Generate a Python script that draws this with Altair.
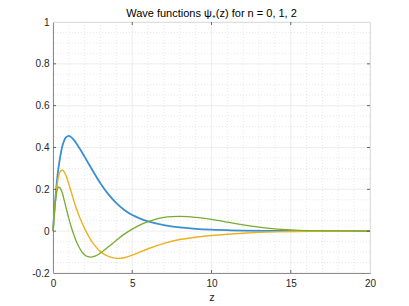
import altair as alt
import pandas as pd

# ---- data ----
z0 = [0, 0.1, 0.2, 0.3, 0.4, 0.5, 0.6, 0.7, 0.8, 0.95, 1.1, 1.3, 1.5, 1.75, 2, 2.5,
      3, 3.5, 4, 4.5, 5, 5.5, 6, 7, 8, 9, 10, 11, 12, 14, 16, 18, 20]
psi0 = [0, 0.11, 0.2, 0.275, 0.33, 0.375, 0.41, 0.432, 0.447, 0.455, 0.452, 0.438,
        0.417, 0.387, 0.355, 0.29, 0.228, 0.176, 0.134, 0.101, 0.077, 0.06, 0.047,
        0.029, 0.018, 0.011, 0.007, 0.0045, 0.003, 0.0013, 0.0005, 0.0002, 0.0]

z1 = [0, 0.1, 0.2, 0.3, 0.4, 0.5, 0.6, 0.7, 0.85, 1.0, 1.2, 1.4, 1.6, 1.8, 2.0, 2.2,
      2.5, 2.8, 3.0, 3.5, 4.0, 4.5, 5, 5.5, 6, 7, 8, 9, 10, 11, 12, 13, 14, 16, 18, 20]
psi1 = [0, 0.1, 0.18, 0.24, 0.275, 0.29, 0.292, 0.285, 0.26, 0.225, 0.175, 0.125,
        0.082, 0.045, 0.012, -0.018, -0.055, -0.083, -0.099, -0.121, -0.13, -0.127,
        -0.115, -0.099, -0.084, -0.058, -0.04, -0.029, -0.021, -0.015, -0.01,
        -0.006, -0.0035, -0.001, -0.0003, 0.0]

z2 = [0, 0.1, 0.2, 0.3, 0.4, 0.5, 0.6, 0.7, 0.8, 1.0, 1.2, 1.4, 1.6, 1.8, 2.0, 2.2,
      2.4, 2.6, 2.8, 3.0, 3.5, 4.0, 4.5, 5.0, 5.5, 6, 6.5, 7, 7.5, 8, 8.5, 9, 10, 11,
      12, 13, 14, 15, 16, 18, 20]
psi2 = [0, 0.1, 0.17, 0.205, 0.21, 0.2, 0.18, 0.15, 0.12, 0.06, 0.008, -0.035, -0.07,
        -0.097, -0.114, -0.122, -0.124, -0.121, -0.114, -0.104, -0.075, -0.043,
        -0.014, 0.01, 0.03, 0.046, 0.058, 0.066, 0.07, 0.071, 0.07, 0.066, 0.056,
        0.043, 0.03, 0.019, 0.011, 0.006, 0.003, 0.001, 0.0]

series_colors = ["#3b8fd0", "#edb120", "#77ac30"]
series_widths = [1.8, 1.4, 1.3]

x_major = [0, 5, 10, 15, 20]
x_minor = [1, 2, 3, 4, 6, 7, 8, 9, 11, 12, 13, 14, 16, 17, 18, 19]
y_major = [-0.2, 0, 0.2, 0.4, 0.6, 0.8, 1]
y_minor = [-0.15, -0.1, -0.05, 0.05, 0.1, 0.15, 0.25, 0.3, 0.35, 0.45, 0.5, 0.55,
           0.65, 0.7, 0.75, 0.85, 0.9, 0.95]

W, H = 317, 251
FONT = "Liberation Sans"

xs = alt.Scale(domain=[0, 20], nice=False, zero=False)
ys = alt.Scale(domain=[-0.2, 1], nice=False, zero=False)

x_axis = alt.Axis(values=x_major, grid=False, ticks=False, labelFontSize=10,
                  labelColor="#262626", labelPadding=5, labelFont=FONT,
                  labelFlush=False,
                  title="z", titleFont=FONT, titleFontSize=11, titleFontWeight="normal",
                  titleColor="#262626", titlePadding=3, domainColor="#666666",
                  domainWidth=1)
y_axis = alt.Axis(values=y_major, grid=False, ticks=False, labelFontSize=10,
                  labelColor="#262626", labelPadding=4, labelFont=FONT,
                  labelFlush=False,
                  labelExpr="replace(format(datum.value, '~g'), '\u2212', '-')",
                  title=None, domainColor="#666666", domainWidth=1)

gxmin = alt.Chart(pd.DataFrame({"v": x_minor})).mark_rule(
    color="#d9d9d9", strokeWidth=0.6, strokeDash=[1, 2]).encode(
    x=alt.X("v:Q", scale=xs, axis=x_axis))
gxmaj = alt.Chart(pd.DataFrame({"v": x_major})).mark_rule(
    color="#e3e3e3", strokeWidth=0.6).encode(x=alt.X("v:Q", scale=xs))
gymin = alt.Chart(pd.DataFrame({"v": y_minor})).mark_rule(
    color="#d9d9d9", strokeWidth=0.6, strokeDash=[1, 2]).encode(
    y=alt.Y("v:Q", scale=ys, axis=y_axis))
gymaj = alt.Chart(pd.DataFrame({"v": y_major})).mark_rule(
    color="#e3e3e3", strokeWidth=0.6).encode(y=alt.Y("v:Q", scale=ys))

curves = []
for zz, pp, col, sw in zip([z0, z1, z2], [psi0, psi1, psi2], series_colors, series_widths):
    df = pd.DataFrame({"z": zz, "psi": pp})
    curves.append(alt.Chart(df).mark_line(color=col, strokeWidth=sw,
                                           interpolate="natural").encode(
        x=alt.X("z:Q", scale=xs), y=alt.Y("psi:Q", scale=ys)))

tick_col = "#444444"
dfx = pd.DataFrame({"v": x_major[1:-1]})
dfy = pd.DataFrame({"v": y_major[1:-1]})
tk = [
    alt.Chart(dfx).mark_rule(color=tick_col, strokeWidth=0.8).encode(
        x=alt.X("v:Q", scale=xs), y=alt.value(H), y2=alt.value(H - 3)),
    alt.Chart(dfx).mark_rule(color=tick_col, strokeWidth=0.8).encode(
        x=alt.X("v:Q", scale=xs), y=alt.value(0), y2=alt.value(3)),
    alt.Chart(dfy).mark_rule(color=tick_col, strokeWidth=0.8).encode(
        y=alt.Y("v:Q", scale=ys), x=alt.value(0), x2=alt.value(3)),
    alt.Chart(dfy).mark_rule(color=tick_col, strokeWidth=0.8).encode(
        y=alt.Y("v:Q", scale=ys), x=alt.value(W), x2=alt.value(W - 3)),
]

chart = alt.layer(gxmin, gxmaj, gymin, gymaj, *curves, *tk).properties(
    width=W, height=H,
    title=alt.TitleParams("Wave functions \u03c8\u208a(z) for n = 0, 1, 2",
                          font=FONT, fontSize=11, fontWeight="normal",
                          color="#000000", offset=0, dy=2),
    autosize=alt.AutoSizeParams(type="none"),
    padding={"left": 45, "top": 14, "right": 31, "bottom": 30},
).configure_view(stroke="#555555", strokeWidth=0.8).configure(background="white")

chart.save("out.html", embed_options={"renderer": "svg", "actions": False})
